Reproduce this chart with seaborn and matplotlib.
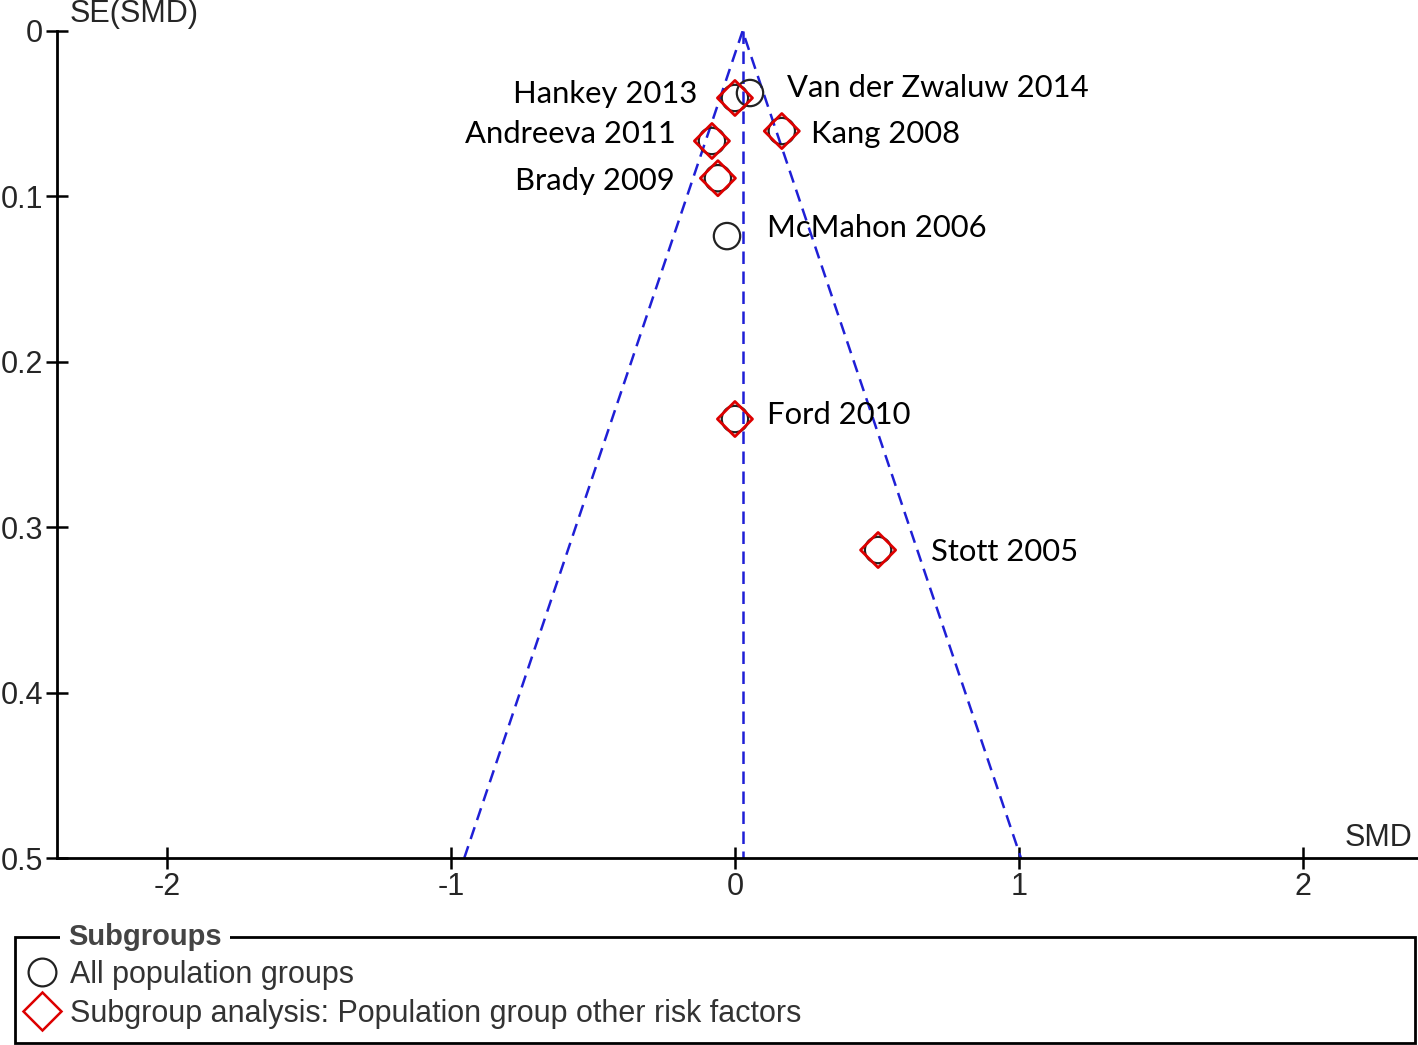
import numpy as np
import pandas as pd
import seaborn as sns
import matplotlib.pyplot as plt
from matplotlib import font_manager
from matplotlib.patches import Rectangle
from matplotlib.lines import Line2D

#%% data
studies = ['Van der Zwaluw 2014', 'Hankey 2013', 'Kang 2008', 'Andreeva 2011',
           'Brady 2009', 'McMahon 2006', 'Ford 2010', 'Stott 2005']
smd = [0.053, 0.0, 0.165, -0.081, -0.060, -0.028, 0.0, 0.504]
se_smd = [0.0375, 0.0405, 0.0605, 0.0665, 0.089, 0.124, 0.2346, 0.3138]
in_subgroup = [False, True, True, True, True, False, True, True]
pooled = 0.027
se_max = 0.5

x_ticks = [-2, -1, 0, 1, 2]
y_ticks = [0, 0.1, 0.2, 0.3, 0.4, 0.5]
y_tick_labels = ['0', '0.1', '0.2', '0.3', '0.4', '0.5']

# label offsets from each point, in pixels (dx, dy up)
label_offsets = [(37, 5), (-38, 4), (29, -3), (-36, 7), (-43, -3), (40, 8), (32, 4), (53, -2)]

df = pd.DataFrame({'study': studies, 'smd': smd, 'se': se_smd, 'sub': in_subgroup})

#%% setup plot
sns.set_style("white")
names = {f.name for f in font_manager.fontManager.ttflist}
narrow = 'Liberation Sans Narrow' if 'Liberation Sans Narrow' in names else 'Liberation Sans'
plt.rcParams['font.family'] = [narrow, 'DejaVu Sans']
W, H = 1418, 1045
fig = plt.figure(figsize=(W / 100, H / 100), dpi=100)
ax = fig.add_axes([57 / W, 1 - 858 / H, 1 - 57 / W, (858 - 31) / H])

blue = '#1f1fd6'
ax.plot([pooled - 1.96 * se_max, pooled, pooled + 1.96 * se_max], [se_max, 0, se_max],
        color=blue, lw=1.8, ls=(0, (5, 3)), zorder=1)
ax.plot([pooled, pooled], [0, se_max], color=blue, lw=1.8, ls=(0, (5, 3)), zorder=1)

sns.scatterplot(data=df, x='smd', y='se', marker='o', s=360, facecolor='none',
                edgecolor='#222222', linewidth=1.6, ax=ax, zorder=3, clip_on=False)
sns.scatterplot(data=df[df['sub']], x='smd', y='se', marker='D', s=320, facecolor='none',
                edgecolor='#dd0000', linewidth=2.0, ax=ax, zorder=4, clip_on=False)

for name, x, y, (dx, dy) in zip(studies, smd, se_smd, label_offsets):
    ax.annotate(name, (x, y), xytext=(dx, dy), textcoords='offset pixels',
                ha='left' if dx > 0 else 'right', va='center',
                fontsize=22.3, family=['Lato', 'DejaVu Sans'], color='black')

ax.set_xlim(-2.387, 2.405)
ax.set_ylim(0.5, 0)
ax.set_xticks(x_ticks)
ax.set_xticklabels([str(t) for t in x_ticks])
ax.set_yticks(y_ticks)
ax.set_yticklabels(y_tick_labels)
ax.set_xlabel('')
ax.set_ylabel('')
for s in ['top', 'right']:
    ax.spines[s].set_visible(False)
for s in ['left', 'bottom']:
    ax.spines[s].set_linewidth(2)
    ax.spines[s].set_color('black')
ax.tick_params(direction='inout', length=16, width=1.8, color='black',
               labelsize=22, pad=2, left=True, bottom=True)
ax.grid(False)

fig.text(70 / W, 1 - 22 / H, 'SE(SMD)', fontsize=22, va='baseline')
fig.text(1412 / W, 1 - 846 / H, 'SMD', fontsize=22, va='baseline', ha='right')

#%% legend box
fig.patches.append(Rectangle((15 / W, 1 - 1043 / H), 1400 / W, 106 / H, fill=False,
                             lw=2, edgecolor='black', transform=fig.transFigure))
fig.text(68 / W, 1 - 937 / H, 'Subgroups', fontsize=21, fontweight='bold', color='#444444',
         va='center', bbox=dict(facecolor='white', edgecolor='none', pad=6))
handles = [Line2D([], [], marker='o', ls='none', mfc='none', mec='#222222', mew=1.6, ms=20),
           Line2D([], [], marker='D', ls='none', mfc='none', mec='#dd0000', mew=1.8, ms=19)]
fig.legend(handles, ['All population groups', 'Subgroup analysis: Population group other risk factors'],
           loc='upper left', bbox_to_anchor=(27 / W, 1 - 960 / H), frameon=False,
           fontsize=22, handlelength=1.0, handletextpad=0.4, labelspacing=0.3,
           borderpad=0, borderaxespad=0, labelcolor='#333333')

plt.savefig('out.png', dpi=100)
